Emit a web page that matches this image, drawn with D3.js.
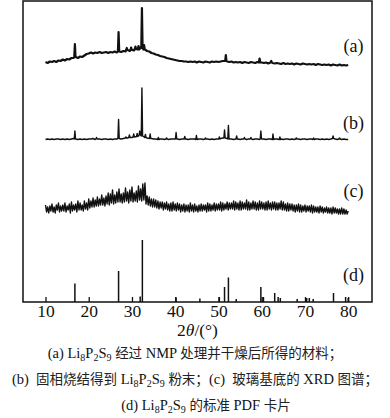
<!DOCTYPE html>
<html>
<head>
<meta charset="utf-8">
<script src="https://cdn.jsdelivr.net/npm/d3@7"></script>
<style>
  body { margin: 0; background: #fff; }
  svg { display: block; }
</style>
</head>
<body>
<div id="wrapper"></div>
<script>
// 1. Data (2θ grid starts at 10°, intensities in arbitrary units, curves offset)
const gridStart = 10
const stepAB = 0.5
const stepC = 0.25

// (a) Li8P2S9 after NMP treatment
const seriesA = [
  240, 239, 240.5, 240, 241, 240, 241.5, 241, 242.5, 241.5,
  243, 242.5, 244, 244, 245, 244, 245.5, 245, 246.5, 248,
  248.5, 249.5, 248.5, 249.5, 249, 250, 249, 249.5, 250, 249,
  250, 249.5, 250.5, 249.5, 250.5, 250, 251, 250.5, 252, 251,
  252, 251.5, 253, 252.5, 254.5, 254, 252.5, 251, 250.5, 249,
  248.5, 247.5, 247, 246, 245.5, 245, 244, 243.5, 243, 242.5,
  242, 241.5, 241, 241, 240.5, 240.5, 240, 240.5, 240, 240.5,
  239.5, 240.5, 240, 239.5, 240.5, 240, 239.5, 240.5, 240, 240.5,
  240, 240.5, 241, 241, 240.5, 240, 240.5, 239.5, 240, 239.5,
  240, 239, 240, 239.5, 239, 240, 239.5, 239, 240, 239.5,
  239.5, 239, 239.5, 238.5, 239.5, 239, 238.5, 239, 238.5, 238,
  239, 238, 238.5, 238, 238.5, 237.5, 238.5, 238, 237.5, 238.5,
  238, 237.5, 238, 237.5, 238, 237, 238, 237.5, 237, 237.5,
  237, 237.5, 236.5, 237.5, 237, 236.5, 237.5, 236.5, 237, 236.5,
  237
]
const peaksA = [
  [16.8, 258], [26.9, 270], [28.8, 254], [29.8, 254.5], [30.8, 255.5],
  [31.5, 256], [32.3, 294], [32.8, 257], [51.7, 247], [59.5, 243.5], [62.2, 241]
]

// (b) solid-state sintered Li8P2S9 powder
const seriesB = [
  162.5, 163, 162.5, 163, 162.5, 163, 163, 162.5, 163, 162.5,
  163, 162.5, 163, 163.5, 163, 162.5, 163, 162.5, 163, 162.5,
  163, 163, 163.5, 162.5, 163, 163, 162.5, 163, 163, 162.5,
  163, 162.5, 163, 163, 163.5, 163, 163.5, 164, 164, 164.5,
  164.5, 165, 165.5, 166, 167, 166, 164.5, 164, 163.5, 163.5,
  163, 163, 162.5, 163, 163, 162.5, 163, 162.5, 163, 163,
  163, 163, 162.5, 163, 163, 163, 162.5, 163, 163, 163,
  162.5, 163, 163, 162.5, 163, 163, 162.5, 163, 162.5, 163,
  163, 163.5, 164, 164, 163.5, 163, 163, 162.5, 163, 163,
  162.5, 163, 163, 162.5, 163, 163, 162.5, 163, 163, 162.5,
  163, 163, 162.5, 163, 163, 162.5, 163, 163, 162.5, 163,
  162.5, 163, 163, 162.5, 163, 162.5, 163, 163, 162.5, 163,
  163, 162.5, 163, 163, 162.5, 163, 163, 162.5, 163, 162.5,
  163, 162.5, 163, 163.5, 163, 162.5, 163, 162.5, 163, 162.5,
  162.5
]
const peaksB = [
  [16.8, 171], [21.8, 164.5], [26.9, 182.5], [28.6, 165], [29.4, 167],
  [30.4, 168], [31.2, 168.5], [31.8, 171], [32.3, 214], [33.1, 167.5],
  [34.2, 168], [36.1, 164.5], [38, 164], [40.2, 169.5], [42.2, 165.5],
  [44.9, 166.5], [47, 164], [50.2, 165], [51.4, 172], [52.3, 176.5],
  [54.2, 166], [56, 164.5], [57.5, 164.5], [59.8, 171], [62.6, 168],
  [64.2, 165], [68, 164], [72, 164], [76.5, 166], [78, 164]
]

// (c) glass substrate, 4 points per degree
const seriesC = [
  97, 90, 95, 89,   96, 91, 98, 90,   95, 89, 97, 92,   99, 90, 96, 91,   97, 91, 99, 90,
  96, 92, 98, 89,   100, 91, 97, 92,  98, 90, 101, 92,  99, 92, 97, 91,   101, 93, 99, 92,
  103, 94, 101, 95, 104, 95, 102, 96, 105, 96, 103, 97, 107, 97, 104, 96, 106, 98, 109, 97,
  108, 99, 112, 98, 107, 99, 110, 100, 113, 100, 108, 99, 109, 100, 114, 101, 110, 99, 112, 101,
  115, 100, 109, 101, 111, 100, 116, 102, 113, 101, 118, 102, 119, 98, 106, 97, 105, 96, 103, 95,
  103, 95, 102, 94, 101, 93, 100, 94, 100, 92, 99, 93, 100, 92, 98, 91, 99, 91, 100, 92,
  98, 91, 99, 92,   98, 90, 97, 91,   98, 90, 97, 91,   97, 90, 99, 91,   97, 90, 98, 91,
  96, 90, 97, 91,   98, 91, 97, 92,   97, 90, 99, 91,   98, 91, 97, 92,   99, 91, 98, 92,
  98, 92, 100, 91,  99, 92, 98, 93,   100, 92, 99, 93,  99, 93, 101, 92,  100, 93, 99, 92,
  101, 92, 100, 93, 99, 93, 102, 92,  100, 92, 99, 93,  101, 93, 100, 92, 99, 92, 101, 93,
  100, 93, 99, 92,  100, 92, 101, 93, 99, 92, 100, 93,  100, 92, 99, 92,  99, 93, 101, 92,
  100, 92, 98, 91,  99, 91, 98, 92,   98, 91, 97, 90,   97, 91, 98, 90,   97, 90, 96, 91,
  97, 90, 96, 91,   96, 90, 97, 89,   96, 90, 95, 90,   95, 89, 96, 90,   95, 89, 94, 90,
  95, 89, 94, 89,   94, 88, 95, 89,   94, 89, 93, 88,   93, 88, 94, 88,   93, 88, 92, 88,
  91
]

// (d) standard PDF card lines: [2θ, relative height]
const sticksD = [
  [16.8, 18.5], [26.9, 31], [31.9, 5.5], [32.4, 62], [40.2, 4.5], [45.7, 3.5],
  [50.2, 5], [51.4, 15], [52.3, 24.5], [54.1, 3], [59.8, 15], [60.4, 5],
  [63.0, 9], [63.8, 5], [64.3, 4], [68.2, 3], [70.4, 4], [71.0, 4],
  [71.9, 3], [76.6, 9], [79.4, 5], [80.0, 4]
]

const xTicks = [10, 20, 30, 40, 50, 60, 70, 80]
const curveLabels = ["(a)", "(b)", "(c)", "(d)"]

const captionLines = [
  [["(a) Li"], ["8", "sub"], ["P"], ["2", "sub"], ["S"], ["9", "sub"], [" "],
   ["经过", "cjk"], [" NMP "], ["处理并干燥后所得的材料；", "cjk"]],
  [["(b)  "], ["固相烧结得到", "cjk"], [" Li"], ["8", "sub"], ["P"], ["2", "sub"], ["S"], ["9", "sub"], [" "],
   ["粉末；", "cjk"], ["(c)  "], ["玻璃基底的", "cjk"], [" XRD "], ["图谱；", "cjk"]],
  [["(d) Li"], ["8", "sub"], ["P"], ["2", "sub"], ["S"], ["9", "sub"], [" "],
   ["的标准", "cjk"], [" PDF "], ["卡片", "cjk"]]
]

function withPeaks(values, step, peaks) {
  const pts = values.map((v, i) => [gridStart + i * step, v])
    .filter(p => !peaks.some(k => Math.abs(k[0] - p[0]) < 0.16))
  peaks.forEach(([pos, top]) => {
    const base = values[Math.round((pos - gridStart) / step)]
    pts.push([pos - 0.15, base], [pos, top], [pos + 0.15, base])
  })
  return pts.sort((a, b) => a[0] - b[0])
}

function drawChart() {
  // 2. Dimensions
  const dims = {
    width: 390,
    height: 418,
    margin: { top: 1, right: 18, bottom: 116, left: 23 }
  }
  dims.boundedWidth = dims.width - dims.margin.left - dims.margin.right
  dims.boundedHeight = dims.height - dims.margin.top - dims.margin.bottom

  // 3. Canvas
  const wrapper = d3.select("#wrapper")
    .append("svg")
      .attr("width", dims.width)
      .attr("height", dims.height)

  const bounds = wrapper.append("g")
      .attr("transform", `translate(${dims.margin.left},${dims.margin.top})`)

  // 4. Scales
  const xScale = d3.scaleLinear()
    .domain([4.8, 85.5])
    .range([0, dims.boundedWidth])

  const yScale = d3.scaleLinear()
    .domain([0, 301])
    .range([dims.boundedHeight, 0])

  const lineGen = d3.line()
    .x(d => xScale(d[0]))
    .y(d => yScale(d[1]))

  // 5. Data
  const curves = [
    { pts: withPeaks(seriesA, stepAB, peaksA), w: 2.2 },
    { pts: withPeaks(seriesB, stepAB, peaksB), w: 1.4 },
    { pts: seriesC.map((v, i) => [gridStart + i * stepC, v]), w: 1.4 }
  ]

  bounds.selectAll("path.curve")
    .data(curves)
    .enter().append("path")
      .attr("class", "curve")
      .attr("d", d => lineGen(d.pts))
      .attr("fill", "none")
      .attr("stroke", "#111")
      .attr("stroke-width", d => d.w)
      .attr("stroke-linejoin", "round")

  bounds.selectAll("line.stick")
    .data(sticksD)
    .enter().append("line")
      .attr("class", "stick")
      .attr("x1", d => xScale(d[0]))
      .attr("x2", d => xScale(d[0]))
      .attr("y1", yScale(0))
      .attr("y2", d => yScale(d[1]))
      .attr("stroke", "#111")
      .attr("stroke-width", 1.5)

  // 6. Peripherals
  const xAxisGenerator = d3.axisBottom(xScale)
    .tickValues(xTicks)
    .tickSizeInner(-5)
    .tickSizeOuter(0)
    .tickPadding(3)

  const xAxis = bounds.append("g")
      .attr("transform", `translate(0,${dims.boundedHeight})`)
    .call(xAxisGenerator)
  xAxis.select(".domain").remove()
  xAxis.selectAll(".tick line").attr("stroke", "#111").attr("stroke-width", 1.3)
  xAxis.selectAll(".tick text")
      .attr("fill", "#111")
      .style("font-family", "'Liberation Serif', serif")
      .style("font-size", "17.5px")

  bounds.append("rect")
      .attr("width", dims.boundedWidth)
      .attr("height", dims.boundedHeight)
      .attr("fill", "none")
      .attr("stroke", "#111")
      .attr("stroke-width", 1.5)

  const labelY = [250, 173, 105, 21]
  bounds.selectAll("text.curve-label")
    .data(curveLabels)
    .enter().append("text")
      .attr("class", "curve-label")
      .attr("x", xScale(81.2))
      .attr("y", (d, i) => yScale(labelY[i]))
      .attr("text-anchor", "middle")
      .style("font-family", "'Liberation Serif', serif")
      .style("font-size", "18px")
      .attr("fill", "#111")
      .text(d => d)

  const xTitle = wrapper.append("text")
      .attr("x", 197.5)
      .attr("y", 336)
      .attr("text-anchor", "middle")
      .style("font-family", "'Liberation Serif', serif")
      .style("font-size", "17.5px")
      .attr("fill", "#111")
  xTitle.append("tspan").text("2")
  xTitle.append("tspan").style("font-style", "italic").text("θ")
  xTitle.append("tspan").text("/(°)")

  // caption
  const captionX = [195, 195, 206]
  const captionY = [358, 384, 410]
  captionLines.forEach((segs, li) => {
    const t = wrapper.append("text")
        .attr("x", captionX[li])
        .attr("y", captionY[li])
        .attr("text-anchor", "middle")
        .style("white-space", "pre")
        .style("font-family", "'Liberation Serif', 'Noto Sans CJK SC', serif")
        .style("font-size", "14.5px")
        .attr("fill", "#111")
    let inSub = false
    segs.forEach(([txt, kind]) => {
      const s = t.append("tspan").text(txt)
      if (kind === "sub") {
        s.style("font-size", "10px")
        if (!inSub) s.attr("dy", 3)
        inSub = true
      } else {
        if (inSub) s.attr("dy", -3)
        inSub = false
        if (kind === "cjk") {
          s.style("font-family", "'Noto Sans CJK SC', sans-serif")
            .style("font-size", "13.5px")
            .attr("fill", "#222")
        }
      }
    })
  })
}
drawChart()
</script>
</body>
</html>
